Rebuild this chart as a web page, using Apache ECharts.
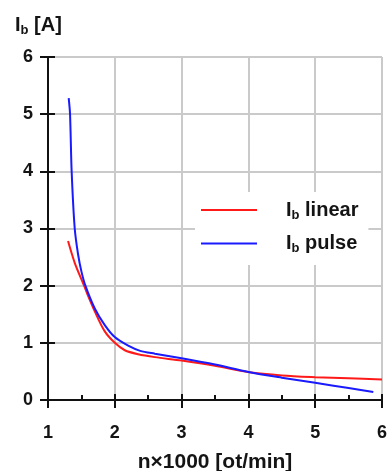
<!DOCTYPE html>
<html>
<head>
<meta charset="utf-8">
<script src="https://cdn.jsdelivr.net/npm/echarts@6/dist/echarts.min.js"></script>
<style>
  html, body { margin: 0; padding: 0; background: #fff; }
  #chart { width: 390px; height: 471px; }
</style>
</head>
<body>
<div id="chart"></div>
<script>
// Speed (n×1000 rpm) vs. current I_b for the two drive modes
const linearSpeed = [1.3, 1.4, 1.54, 1.6, 1.7, 1.85, 2.0, 2.15, 2.35, 2.6, 3.0, 3.5, 4.0, 4.5, 5.0, 5.5, 6.0];
const linearCurrent = [2.78, 2.4, 2.0, 1.82, 1.55, 1.2, 1.0, 0.87, 0.80, 0.75, 0.69, 0.60, 0.49, 0.43, 0.40, 0.38, 0.36];

const pulseSpeed = [1.31, 1.33, 1.354, 1.40, 1.45, 1.5, 1.56, 1.7, 1.85, 2.0, 2.2, 2.38, 2.6, 3.0, 3.5, 4.0, 4.5, 5.0, 5.5, 5.87];
const pulseCurrent = [5.28, 5.0, 4.0, 3.0, 2.55, 2.25, 2.0, 1.6, 1.31, 1.1, 0.95, 0.86, 0.81, 0.73, 0.62, 0.49, 0.39, 0.30, 0.21, 0.14];

const xTicks = [1, 2, 3, 4, 5, 6];
const yTicks = [0, 1, 2, 3, 4, 5, 6];

const seriesNames = ['linear', 'pulse'];

const FONT = 'Liberation Sans, Arial, sans-serif';
const TXT = '#141414';

function pairs(xs, ys) { return xs.map((x, i) => [x, ys[i]]); }

// "I" with a subscript "b", followed by the rest of the label
function subRich(size, subSize) {
  return {
    m: { fontFamily: FONT, fontWeight: 'bold', fontSize: size, color: TXT, lineHeight: size + 4 },
    s: { fontFamily: FONT, fontWeight: 'bold', fontSize: subSize, color: TXT, padding: [Math.round(size * 0.5), 0, 0, 0] }
  };
}

const chart = echarts.init(document.getElementById('chart'));

const xBase = {
  type: 'value',
  min: xTicks[0], max: xTicks[xTicks.length - 1], interval: 1,
  position: 'bottom', offset: 0
};
const yBase = {
  type: 'value',
  min: yTicks[0], max: yTicks[yTicks.length - 1], interval: 1,
  position: 'left', offset: 0
};

chart.setOption({
  animation: false,
  backgroundColor: '#fff',
  title: {
    text: '{m|I}{s|b}{m| [A]}',
    left: 10, top: 8,
    textStyle: { rich: subRich(20, 13) }
  },
  grid: { left: 48, right: 8, top: 57, bottom: 71, containLabel: false, outerBoundsMode: 'none' },
  legend: {
    data: seriesNames,
    orient: 'vertical',
    left: 195, top: 192,
    padding: [8, 10, 10, 6],
    backgroundColor: '#fff',
    itemWidth: 56, itemHeight: 16,
    itemGap: 12,
    icon: 'path://M0,7 L56,7 L56,9 L0,9 Z',
    formatter: n => '{m|I}{s|b}{m| ' + n + '}',
    textStyle: {
      padding: [0, 0, 0, 24],
      rich: subRich(20, 13)
    }
  },
  xAxis: [
    Object.assign({}, xBase, {
      name: 'n×1000 [ot/min]',
      nameLocation: 'middle',
      nameGap: 52,
      nameTextStyle: { fontFamily: FONT, fontWeight: 'bold', fontSize: 21, color: TXT },
      axisLine: { show: true, lineStyle: { color: '#111', width: 2 } },
      axisTick: { show: true, inside: false, length: 8, lineStyle: { color: '#111', width: 2 } },
      axisLabel: { margin: 24, fontFamily: FONT, fontWeight: 'bold', fontSize: 18, color: TXT },
      splitLine: { show: true, lineStyle: { color: '#cacaca', width: 2 } }
    }),
    Object.assign({}, xBase, {
      axisLine: { show: false },
      axisTick: { show: true, inside: true, length: 6, lineStyle: { color: '#111', width: 2 } },
      minorTick: { show: true, splitNumber: 2, length: 5, lineStyle: { color: '#111', width: 2 } },
      axisLabel: { show: false },
      splitLine: { show: false }
    })
  ],
  yAxis: [
    Object.assign({}, yBase, {
      axisLine: { show: true, lineStyle: { color: '#111', width: 2 } },
      axisTick: { show: true, inside: false, length: 8, lineStyle: { color: '#111', width: 2 } },
      axisLabel: { margin: 15, fontFamily: FONT, fontWeight: 'bold', fontSize: 18, color: TXT },
      splitLine: { show: true, lineStyle: { color: '#cacaca', width: 2 } }
    }),
    Object.assign({}, yBase, {
      axisLine: { show: false },
      axisTick: { show: true, inside: true, length: 7, lineStyle: { color: '#111', width: 2 } },
      axisLabel: { show: false },
      splitLine: { show: false }
    })
  ],
  series: [
    {
      name: seriesNames[0], type: 'line',
      data: pairs(linearSpeed, linearCurrent),
      smooth: 0.3, showSymbol: false,
      itemStyle: { color: '#ff1a1a' },
      lineStyle: { color: '#ff1a1a', width: 2 }
    },
    {
      name: seriesNames[1], type: 'line',
      data: pairs(pulseSpeed, pulseCurrent),
      smooth: 0.3, showSymbol: false,
      itemStyle: { color: '#1a1aff' },
      lineStyle: { color: '#1a1aff', width: 2 }
    }
  ]
});
</script>
</body>
</html>
